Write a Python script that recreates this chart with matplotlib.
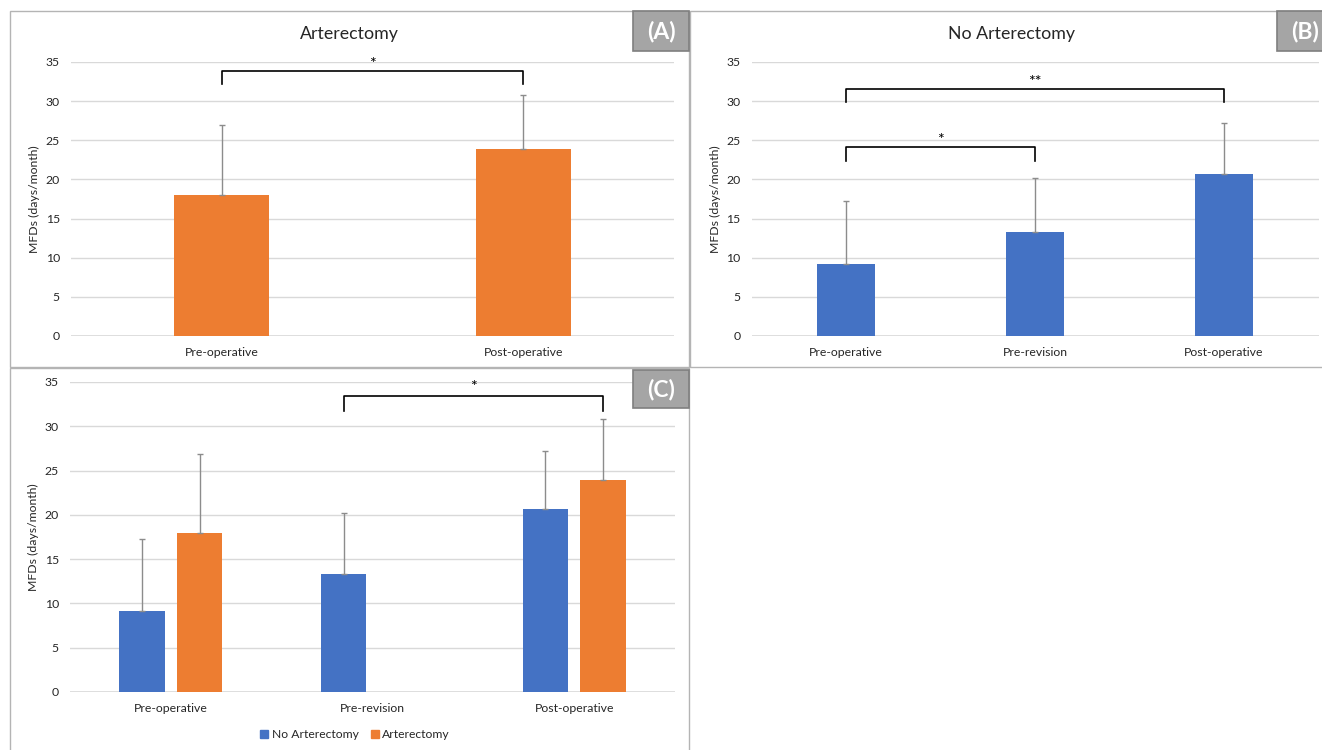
import matplotlib
matplotlib.use("Agg")
import matplotlib.pyplot as plt
from matplotlib.patches import Rectangle, Patch
import numpy as np

plt.rcParams['font.family'] = ['Lato', 'DejaVu Sans']

# ---- data ----
cats_A = ["Pre-operative", "Post-operative"]
vals_A = [18.0, 23.9]
err_A = [8.9, 6.9]

cats_B = ["Pre-operative", "Pre-revision", "Post-operative"]
vals_B = [9.2, 13.3, 20.7]
err_B = [8.1, 6.9, 6.5]

cats_C = ["Pre-operative", "Pre-revision", "Post-operative"]
vals_C_no = [9.2, 13.3, 20.7]
err_C_no = [8.1, 6.9, 6.5]
vals_C_art = [18.0, np.nan, 23.9]
err_C_art = [8.9, np.nan, 6.9]

yticks = [0, 5, 10, 15, 20, 25, 30, 35]
BLUE = "#4472C4"
ORANGE = "#ED7D31"
GRID = "#d9d9d9"
ERRC = "#8c8c8c"
TXT = "#262626"

W, H = 1322, 750
fig = plt.figure(figsize=(W / 100, H / 100), dpi=100)


def fx(x):
    return x / W


def fy(y):
    return 1 - y / H


def axes_px(x0, x1, ytop, ybot):
    return fig.add_axes([fx(x0), fy(ybot), (x1 - x0) / W, (ybot - ytop) / H])


def style(ax, ncat):
    ax.set_ylim(0, 35)
    ax.set_xlim(-0.5, ncat - 0.5)
    ax.set_yticks(yticks)
    ax.yaxis.grid(True, color=GRID, lw=1)
    ax.set_axisbelow(True)
    for s in ax.spines.values():
        s.set_visible(False)
    ax.axhline(0, color=GRID, lw=1.2, zorder=1)
    ax.tick_params(axis='both', length=0, labelsize=8.8, labelcolor=TXT)
    ax.tick_params(axis='y', pad=8)
    ax.tick_params(axis='x', pad=8)
    ax.set_ylabel("MFDs (days/month)", fontsize=8.8, color=TXT, labelpad=4)


def bracket(ax, x0, x1, ylow, yhigh, star, ystar):
    ax.plot([x0, x0, x1, x1], [ylow, yhigh, yhigh, ylow], color="black",
            lw=1.2, clip_on=False, zorder=5)
    ax.text((x0 + x1) / 2, ystar, star, ha="center", va="center",
            fontsize=11.5, color="black", clip_on=False)


# ---- frames ----
frame_ec = "#b4b4b4"
fig.patches.append(Rectangle((fx(10), fy(367)), fx(679), 356 / H,
                             transform=fig.transFigure, fill=False,
                             ec=frame_ec, lw=1.0))
fig.patches.append(Rectangle((fx(690), fy(367)), fx(640), 356 / H,
                             transform=fig.transFigure, fill=False,
                             ec=frame_ec, lw=1.0))
fig.patches.append(Rectangle((fx(10), fy(752)), fx(679), 384 / H,
                             transform=fig.transFigure, fill=False,
                             ec=frame_ec, lw=1.0))

# ---- panel A ----
axA = axes_px(71, 674, 62, 336)
xA = np.arange(len(cats_A))
axA.bar(xA, vals_A, width=0.315, color=ORANGE, zorder=2)
axA.errorbar(xA, vals_A, yerr=[np.zeros(len(err_A)), err_A], fmt="none",
             ecolor=ERRC, elinewidth=1, capsize=2.2, capthick=1, zorder=3)
axA.set_xticks(xA)
axA.set_xticklabels(cats_A)
style(axA, len(cats_A))
bracket(axA, 0, 1, 32.2, 33.9, "*", 34.8)
fig.text(fx(349), fy(34), "Arterectomy", ha="center", va="center",
         fontsize=12.8, color=TXT)

# ---- panel B ----
axB = axes_px(751.5, 1318.5, 62, 336)
xB = np.arange(len(cats_B))
axB.bar(xB, vals_B, width=0.31, color=BLUE, zorder=2)
axB.errorbar(xB, vals_B, yerr=[np.zeros(len(err_B)), err_B], fmt="none",
             ecolor=ERRC, elinewidth=1, capsize=2.2, capthick=1, zorder=3)
axB.set_xticks(xB)
axB.set_xticklabels(cats_B)
style(axB, len(cats_B))
bracket(axB, 0, 2, 29.9, 31.6, "**", 32.4)
bracket(axB, 0, 1, 22.3, 24.1, "*", 25.0)
fig.text(fx(1011), fy(34), "No Arterectomy", ha="center", va="center",
         fontsize=12.8, color=TXT)

# ---- panel C ----
axC = axes_px(70, 675, 382, 692)
xC = np.arange(len(cats_C))
off, bw = 0.143, 0.224
axC.bar(xC - off, vals_C_no, width=bw, color=BLUE, zorder=2,
        label="No Arterectomy")
axC.errorbar(xC - off, vals_C_no, yerr=[np.zeros(3), err_C_no], fmt="none",
             ecolor=ERRC, elinewidth=1, capsize=2.2, capthick=1, zorder=3)
axC.bar(xC + off, vals_C_art, width=bw, color=ORANGE, zorder=2,
        label="Arterectomy")
axC.errorbar(xC + off, vals_C_art, yerr=[np.zeros(3), err_C_art], fmt="none",
             ecolor=ERRC, elinewidth=1, capsize=2.2, capthick=1, zorder=3)
axC.set_xticks(xC)
axC.set_xticklabels(cats_C)
style(axC, len(cats_C))
bracket(axC, 1 - off, 2 + off, 31.7, 33.4, "*", 34.4)
handles = [Patch(color=BLUE, label="No Arterectomy"),
           Patch(color=ORANGE, label="Arterectomy")]
fig.legend(handles=handles, loc="center", bbox_to_anchor=(fx(355), fy(735)),
           ncol=2, frameon=False, fontsize=8.7, handlelength=0.65,
           handleheight=0.65, handletextpad=0.3, columnspacing=1.0,
           labelcolor=TXT)

# ---- panel label boxes ----
def label_box(x0, x1, y0, y1, text):
    fig.patches.append(Rectangle((fx(x0), fy(y1)), (x1 - x0) / W,
                                 (y1 - y0) / H, transform=fig.transFigure,
                                 fc="#a5a5a5", ec="#7f7f7f", lw=1.2,
                                 zorder=10))
    fig.text(fx((x0 + x1) / 2), fy((y0 + y1) / 2), text, ha="center",
             va="center", fontsize=16.5, fontweight="bold", color="white",
             zorder=11)


label_box(633, 689, 11, 51, "(A)")
label_box(1277, 1333, 11, 51, "(B)")
label_box(633, 689, 370, 408, "(C)")

fig.savefig("out.png", dpi=100)
